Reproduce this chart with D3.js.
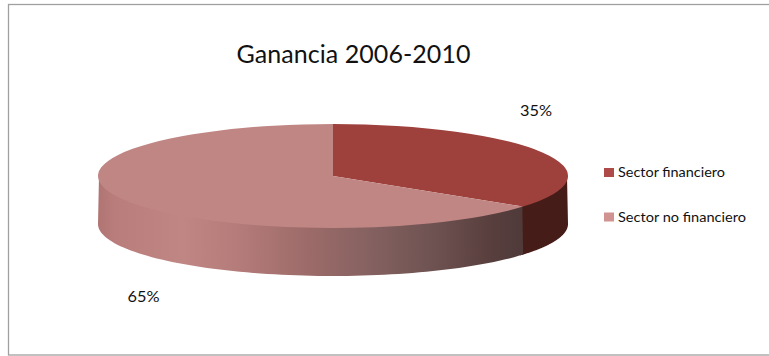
<!DOCTYPE html>
<html>
<head>
<meta charset="utf-8">
<script src="https://cdn.jsdelivr.net/npm/d3@7"></script>
<style>
html,body{margin:0;padding:0;background:#fff}
svg{display:block}
text{font-family:Lato,"Open Sans",sans-serif;fill:#111}
</style>
</head>
<body>
<svg id="chart" width="769" height="356"></svg>
<script>
const categories = ["Sector financiero", "Sector no financiero"];
const values = [35, 65];
const topColors = ["#9e403c", "#c08684"];
const legendColors = ["#ae4a47", "#d19391"];
const valueLabels = ["35%", "65%"];
const chartTitle = "Ganancia 2006-2010";

const svg = d3.select("#chart");
const cx = 333, cy = 176, rx = 235, ry = 52, depth = 48;

// Frame; its right side runs past the edge of the page
svg.append("rect").attr("x", 8.5).attr("y", 4.5).attr("width", 780).attr("height", 350.5)
  .attr("fill", "#fff").attr("stroke", "#a0a0a0").attr("stroke-width", 1.3);

// Horizontal shading along the rim of the larger slice
const grad = svg.append("defs").append("linearGradient").attr("id", "rim")
  .attr("gradientUnits", "userSpaceOnUse")
  .attr("x1", cx - rx).attr("x2", cx + 186).attr("y1", 0).attr("y2", 0);
[[0, "#b07472"], [0.04, "#b97e7c"], [0.2, "#c08684"], [0.35, "#b27a78"], [0.5, "#9c6b69"],
 [0.65, "#846160"], [0.8, "#6d5251"], [0.92, "#5a403f"], [1, "#503a3a"]]
  .forEach(([o, c]) => grad.append("stop").attr("offset", o).attr("stop-color", c));

const slices = d3.pie().sort(null).value(d => d)(values);
const arc = d3.arc().innerRadius(0).outerRadius(rx);

// Point on the elliptical rim; pie angles run clockwise from twelve o'clock
const rimX = (a, r = rx) => cx + r * Math.sin(a);
const rimY = (a, r = ry) => cy - r * Math.cos(a);

// Outer wall between two angles, limited to the visible front half.
// Its upper edge tucks slightly under the top face so no seam shows.
function wallPath(a0, a1) {
  const start = Math.max(a0, Math.PI / 2), end = Math.min(a1, 3 * Math.PI / 2);
  if (end <= start) return null;
  const pts = d3.range(0, 81).map(i => start + (end - start) * i / 80);
  const upper = pts.map(a => [rimX(a, rx - 1), rimY(a, ry - 1)]);
  const lower = pts.slice().reverse().map(a => [rimX(a), rimY(a) + depth]);
  return d3.line()(upper.concat(lower)) + "Z";
}

// Walls overlap a little where they meet, the later one painted on top
const wallFill = ["#451c18", "url(#rim)"];
svg.selectAll("path.wall").data(slices).join("path").attr("class", "wall")
  .attr("d", (d, i) => wallPath(d.startAngle, d.endAngle + (i === 0 ? 0.02 : 0)))
  .attr("fill", (d, i) => wallFill[i]);

svg.selectAll("path.top").data(slices).join("path").attr("class", "top")
  .attr("d", arc)
  .attr("transform", `translate(${cx},${cy}) scale(1,${ry / rx})`)
  .attr("fill", (d, i) => topColors[i]);

// Title
svg.append("text").attr("x", 353.5).attr("y", 62.5).attr("text-anchor", "middle")
  .attr("font-size", 25).attr("textLength", 234).attr("lengthAdjust", "spacing").text(chartTitle);

// Value labels
const labelPos = [[536, 116], [143.5, 302]];
svg.selectAll("text.val").data(valueLabels).join("text").attr("class", "val")
  .attr("x", (d, i) => labelPos[i][0]).attr("y", (d, i) => labelPos[i][1])
  .attr("text-anchor", "middle").attr("font-size", 15.5).attr("textLength", 32)
  .attr("lengthAdjust", "spacingAndGlyphs").text(d => d);

// Legend
const legendY = d3.scalePoint().domain(categories).range([172.5, 217]);
const legendWidths = [107, 128];
const legend = svg.selectAll("g.leg").data(categories).join("g").attr("class", "leg")
  .attr("transform", d => `translate(604,${legendY(d)})`);
legend.append("rect").attr("x", 0).attr("y", -4.5).attr("width", 10).attr("height", 9)
  .attr("fill", (d, i) => legendColors[i]);
legend.append("text").attr("x", 14).attr("y", 4.5).attr("font-size", 13.5)
  .attr("textLength", (d, i) => legendWidths[i]).attr("lengthAdjust", "spacingAndGlyphs").text(d => d);
</script>
</body>
</html>
